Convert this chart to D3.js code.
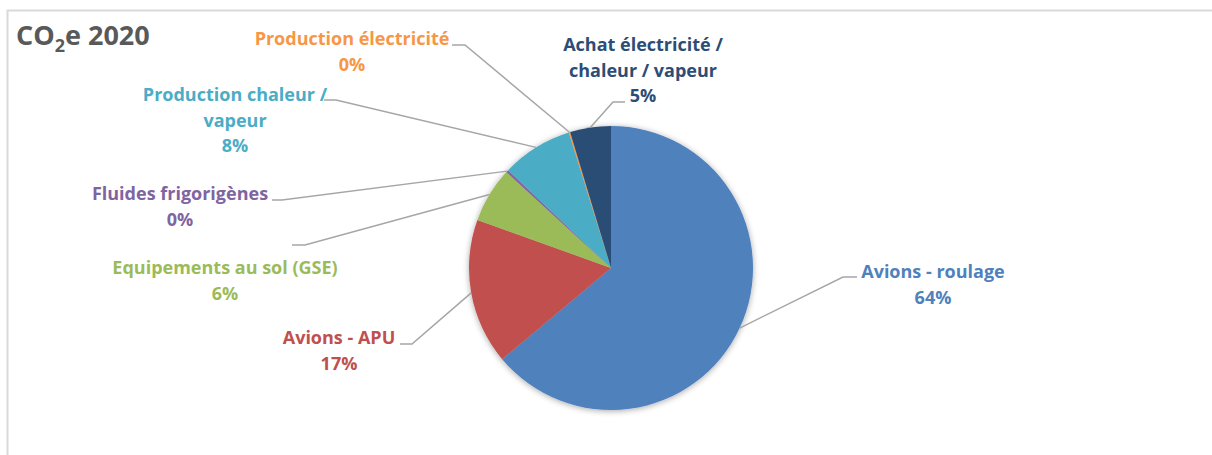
<!DOCTYPE html>
<html><head><meta charset="utf-8">
<script src="https://cdn.jsdelivr.net/npm/d3@7"></script>
<style>
html,body{margin:0;padding:0;background:#fff;}
svg{display:block;font-family:"Open Sans","Lato",sans-serif;}
</style></head>
<body>
<svg id="c" width="1212" height="455"></svg>
<script>
const categories = ["Avions - roulage","Avions - APU","Equipements au sol (GSE)","Fluides frigorigènes","Production chaleur / vapeur","Production électricité","Achat électricité / chaleur / vapeur"];
const values = [63.9, 16.6, 6.3, 0.3, 8.1, 0.15, 4.65];
const percentLabels = ["64%","17%","6%","0%","8%","0%","5%"];
const colors = ["#4F81BD","#C0504D","#9BBB59","#8064A2","#4BACC6","#F79646","#2C4D75"];
const labelLines = [["Avions - roulage"],["Avions - APU"],["Equipements au sol (GSE)"],["Fluides frigorigènes"],["Production chaleur /","vapeur"],["Production électricité"],["Achat électricité /","chaleur / vapeur"]];

const svg = d3.select("#c");
// border
svg.append("path").attr("d","M7.5,455 L7.5,10.5 L1212,10.5").attr("fill","none").attr("stroke","#d9d9d9").attr("stroke-width",2);

// title
const t = svg.append("text").attr("x",16).attr("y",45).attr("fill","#595959").attr("font-size",27).attr("font-weight",700);
t.append("tspan").text("CO");
t.append("tspan").text("2").attr("font-size",18).attr("dy",7);
t.append("tspan").text("e 2020").attr("dy",-7);

const cx=611, cy=268, r=142;
const defs = svg.append("defs");
const f = defs.append("filter").attr("id","sh").attr("x","-20%").attr("y","-20%").attr("width","140%").attr("height","140%");
f.append("feGaussianBlur").attr("in","SourceAlpha").attr("stdDeviation",3);
f.append("feOffset").attr("dx",0).attr("dy",1).attr("result","b");
f.append("feComponentTransfer").append("feFuncA").attr("type","linear").attr("slope",0.35);
const m = f.append("feMerge"); m.append("feMergeNode"); m.append("feMergeNode").attr("in","SourceGraphic");

const pie = d3.pie().sort(null).value(d=>d)(values);
const arc = d3.arc().innerRadius(0).outerRadius(r);
const g = svg.append("g").attr("transform",`translate(${cx},${cy})`).attr("filter","url(#sh)");
g.selectAll("path").data(pie).join("path").attr("d",arc).attr("fill",(d,i)=>colors[i]);

// label layout: center x, first line baseline y, leader start and horizontal end
const layout = [
  {x:933, y:278, lx:857, ly:277, hx:843},
  {x:339, y:344, lx:400, ly:344, hx:412},
  {x:225, y:274, lx:292, ly:245, hx:305},
  {x:180, y:200, lx:272, ly:200, hx:282},
  {x:235, y:101, lx:324, ly:100, hx:336},
  {x:352, y:45,  lx:452, ly:45,  hx:465},
  {x:643, y:51,  lx:625, ly:102, hx:613}
];
const lh = 25.5;
const lg = svg.append("g");
pie.forEach((d,i)=>{
  const L = layout[i];
  const a = (d.startAngle+d.endAngle)/2;
  const px = cx + Math.sin(a)*r, py = cy - Math.cos(a)*r;
  lg.append("polyline").attr("points",`${L.lx},${L.ly} ${L.hx},${L.ly} ${px},${py}`)
    .attr("fill","none").attr("stroke","#A6A6A6").attr("stroke-width",1.5);
  const tx = svg.append("text").attr("text-anchor","middle").attr("fill",colors[i])
    .attr("font-size",18).attr("font-weight",700);
  const lines = labelLines[i].concat([percentLabels[i]]);
  lines.forEach((s,k)=>tx.append("tspan").attr("x",L.x).attr("y",L.y+k*lh).text(s));
});
</script>
</body></html>
